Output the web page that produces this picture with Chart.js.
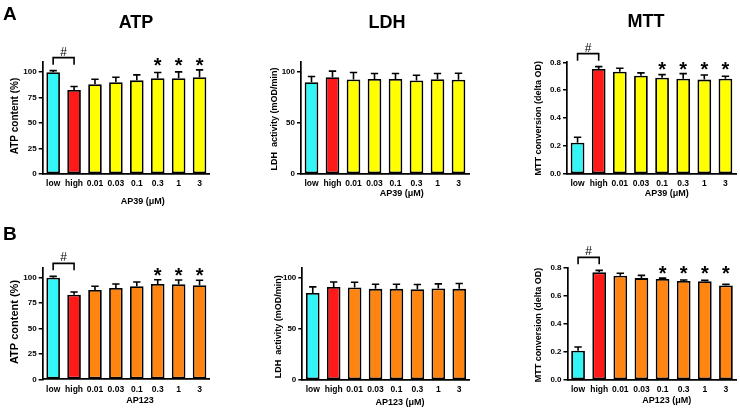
<!DOCTYPE html>
<html>
<head>
<meta charset="utf-8">
<script src="https://cdn.jsdelivr.net/npm/chart.js@4.4.1/dist/chart.umd.min.js"></script>
<style>
  body { margin: 0; background: #fff; }
  #wrap { position: relative; width: 740px; height: 415px; overflow: hidden; background: #fff; }
  #wrap canvas { position: absolute; left: 0; top: 0; }
  .lbl { position: absolute; font-family: 'Liberation Sans', Arial, sans-serif; font-weight: bold; line-height: 1; white-space: nowrap; color: #000; }
  .ttl { font-size: 18px; transform: translateX(-50%); }
  .let { font-size: 19px; }
</style>
</head>
<body>
<div id="wrap">
  <div class="lbl let" style="left:3px; top:4px;">A</div>
  <div class="lbl let" style="left:3px; top:224px;">B</div>
  <div class="lbl ttl" style="left:136px; top:13px;">ATP</div>
  <div class="lbl ttl" style="left:387px; top:13px;">LDH</div>
  <div class="lbl ttl" style="left:646px; top:12px;">MTT</div>
</div>
<script>
const FONT = "'Liberation Sans', Arial, sans-serif";
const Y_W = 26;   // ancho reservado al eje y (las etiquetas se recortan a su caja)
const X_H = 18;   // alto reservado al eje x

// categorias del eje x
const categories = ['low', 'high', '0.01', '0.03', '0.1', '0.3', '1', '3'];

// ticks del eje y
const atpTicks = [0, 25, 50, 75, 100];
const ldhTicks = [0, 50, 100];
const mttTicks = [0, 0.2, 0.4, 0.6, 0.8];

// fila A (AP39)
const atpA = [100, 82.5, 88.2, 90.2, 92, 94, 94.1, 95];
const atpAErr = [1.5, 3.4, 4.8, 4.8, 5.4, 5.7, 6.2, 7.3];
const ldhA = [90.2, 95, 92.8, 93.4, 93.4, 91.8, 93.1, 92.5];
const ldhAErr = [5.5, 6, 6.9, 5.3, 5.3, 5.2, 5.6, 6.5];
const mttA = [0.224, 0.752, 0.733, 0.704, 0.690, 0.683, 0.676, 0.683];
const mttAErr = [0.039, 0.017, 0.024, 0.020, 0.022, 0.036, 0.033, 0.017];

// fila B (AP123)
const atpB = [100, 83.3, 87.9, 89.8, 91.5, 93.8, 93.4, 92.5];
const atpBErr = [1.3, 2.6, 3.6, 4, 4.2, 4.2, 4.3, 4.9];
const ldhB = [85.3, 91.2, 90.6, 89.3, 89.3, 89, 89.6, 89.3];
const ldhBErr = [5.9, 4.8, 5.2, 4.5, 4.5, 4.5, 4.6, 5.2];
const mttB = [0.209, 0.767, 0.743, 0.726, 0.719, 0.705, 0.703, 0.674];
const mttBErr = [0.026, 0.014, 0.017, 0.019, 0.007, 0.007, 0.007, 0.007];

// significancia (* sobre la barra)
const starsAtp = [0, 0, 0, 0, 0, 1, 1, 1];
const starsMtt = [0, 0, 0, 0, 1, 1, 1, 1];
const starsNone = [0, 0, 0, 0, 0, 0, 0, 0];

const CYAN = '#33f5f5', RED = '#ff1a1a', YELLOW = '#ffff00', ORANGE = '#ff8410';
const colorsA = [CYAN, RED, YELLOW, YELLOW, YELLOW, YELLOW, YELLOW, YELLOW];
const colorsB = [CYAN, RED, ORANGE, ORANGE, ORANGE, ORANGE, ORANGE, ORANGE];

const panels = [
  { vals: atpA, errs: atpAErr, colors: colorsA, ticks: atpTicks, max: 110, dec: 0, area: [42.7, 62, 210, 174],
    yTitle: 'ATP content (%)', yFont: 10, yPos: [15.5, 116], xTitle: 'AP39 (\u03bcM)', xPos: [142.7, 201.5], stars: starsAtp, bracket: true },
  { vals: ldhA, errs: ldhAErr, colors: colorsA, ticks: ldhTicks, max: 110, dec: 0, area: [301, 62, 469, 174],
    yTitle: 'LDH  activity (mOD/min)', yFont: 9, yPos: [275, 119], xTitle: 'AP39 (\u03bcM)', xPos: [401.7, 193.3], stars: starsNone, bracket: false },
  { vals: mttA, errs: mttAErr, colors: colorsA, ticks: mttTicks, max: 0.8, dec: 1, area: [567, 62.3, 736, 174],
    yTitle: 'MTT conversion (delta OD)', yFont: 9, yPos: [538.3, 118.3], xTitle: 'AP39 (\u03bcM)', xPos: [666.7, 193.3], stars: starsMtt, bracket: true },
  { vals: atpB, errs: atpBErr, colors: colorsB, ticks: atpTicks, max: 110, dec: 0, area: [42.7, 267.5, 210, 379.3],
    yTitle: 'ATP content (%)', yFont: 11, yPos: [15, 322], xTitle: 'AP123', xPos: [140, 400], stars: starsAtp, bracket: true },
  { vals: ldhB, errs: ldhBErr, colors: colorsB, ticks: ldhTicks, max: 110, dec: 0, area: [302.3, 267.7, 469.7, 380],
    yTitle: 'LDH  activity (mOD/min)', yFont: 9, yPos: [278.3, 326.7], xTitle: 'AP123 (\u03bcM)', xPos: [400, 402.7], stars: starsNone, bracket: false },
  { vals: mttB, errs: mttBErr, colors: colorsB, ticks: mttTicks, max: 0.8, dec: 1, area: [567.5, 267.7, 736.5, 380],
    yTitle: 'MTT conversion (delta OD)', yFont: 9, yPos: [538.3, 325], xTitle: 'AP123 (\u03bcM)', xPos: [666.7, 400.7], stars: starsMtt, bracket: true }
];

// texto centrado segun la caja real del glifo
function centeredText(ctx, txt, x, y) {
  const m = ctx.measureText(txt);
  const base = y - (m.actualBoundingBoxDescent - m.actualBoundingBoxAscent) / 2;
  ctx.textAlign = 'center';
  ctx.textBaseline = 'alphabetic';
  ctx.fillText(txt, x, base);
}

function makeAnnot(p) {
  return {
    id: 'annot',
    afterDraw(chart) {
      const ctx = chart.ctx;
      const meta = chart.getDatasetMeta(0);
      const ys = chart.scales.y;
      ctx.save();
      ctx.strokeStyle = '#000';
      ctx.fillStyle = '#000';
      ctx.lineWidth = 1.6;

      // barras de error (solo hacia arriba)
      const tops = [];
      meta.data.forEach((bar, i) => {
        const top = ys.getPixelForValue(p.vals[i] + p.errs[i]);
        tops.push(top);
        const half = bar.width * 0.27;
        ctx.beginPath();
        ctx.moveTo(bar.x, bar.y);
        ctx.lineTo(bar.x, top);
        ctx.moveTo(bar.x - half, top);
        ctx.lineTo(bar.x + half, top);
        ctx.stroke();
      });

      // corchete low/high con #
      if (p.bracket) {
        const x0 = meta.data[0].x, x1 = meta.data[1].x;
        const by = Math.min(tops[0], tops[1]) - 13;
        ctx.beginPath();
        ctx.moveTo(x0, by + 7);
        ctx.lineTo(x0, by);
        ctx.lineTo(x1, by);
        ctx.lineTo(x1, by + 7);
        ctx.stroke();
        ctx.font = '12px ' + FONT;
        centeredText(ctx, '#', (x0 + x1) / 2, by - 6.5);
      }

      // asteriscos
      const starIdx = p.stars.map((s, i) => s ? i : -1).filter(i => i >= 0);
      if (starIdx.length) {
        const level = Math.min(...starIdx.map(i => tops[i])) - 8;
        ctx.font = 'bold 20px ' + FONT;
        starIdx.forEach(i => centeredText(ctx, '*', meta.data[i].x, level));
      }

      // titulos de ejes
      ctx.font = 'bold 9px ' + FONT;
      centeredText(ctx, p.xTitle, p.xPos[0], p.xPos[1]);
      ctx.font = 'bold ' + p.yFont + 'px ' + FONT;
      ctx.translate(p.yPos[0], p.yPos[1]);
      ctx.rotate(-Math.PI / 2);
      ctx.textAlign = 'center';
      ctx.textBaseline = 'middle';
      ctx.fillText(p.yTitle, 0, 0);
      ctx.restore();
    }
  };
}

const wrap = document.getElementById('wrap');
panels.forEach(p => {
  const canvas = document.createElement('canvas');
  canvas.width = 740;
  canvas.height = 415;
  wrap.insertBefore(canvas, wrap.firstChild);
  const a = p.area;
  new Chart(canvas.getContext('2d'), {
    type: 'bar',
    data: {
      labels: categories,
      datasets: [{
        data: p.vals,
        backgroundColor: p.colors,
        borderColor: '#000',
        borderWidth: 1.8,
        borderSkipped: false,
        barPercentage: 0.65,
        categoryPercentage: 1
      }]
    },
    options: {
      responsive: false,
      animation: false,
      devicePixelRatio: 1,
      events: [],
      layout: { autoPadding: false, padding: { left: a[0] - Y_W, top: a[1], right: 740 - a[2], bottom: 415 - a[3] - X_H } },
      plugins: { legend: { display: false }, tooltip: { enabled: false } },
      scales: {
        x: {
          grid: { display: false, drawTicks: false },
          border: { color: '#000', width: 1.7 },
          ticks: { color: '#000', font: { family: FONT, weight: 'bold', size: 8.5 }, padding: 5, maxRotation: 0, autoSkip: false },
          afterFit(s) { s.height = X_H; }
        },
        y: {
          min: 0,
          max: p.max,
          grid: { drawOnChartArea: false, color: '#000', lineWidth: 1.5, tickLength: 4 },
          border: { color: '#000', width: 1.7 },
          ticks: {
            color: '#000', font: { family: FONT, weight: 'bold', size: 8 }, padding: 2,
            callback: v => v.toFixed(p.dec)
          },
          afterBuildTicks(s) { s.ticks = p.ticks.map(v => ({ value: v })); },
          afterFit(s) { s.width = Y_W; }
        }
      }
    },
    plugins: [makeAnnot(p)]
  });
});
</script>
</body>
</html>
